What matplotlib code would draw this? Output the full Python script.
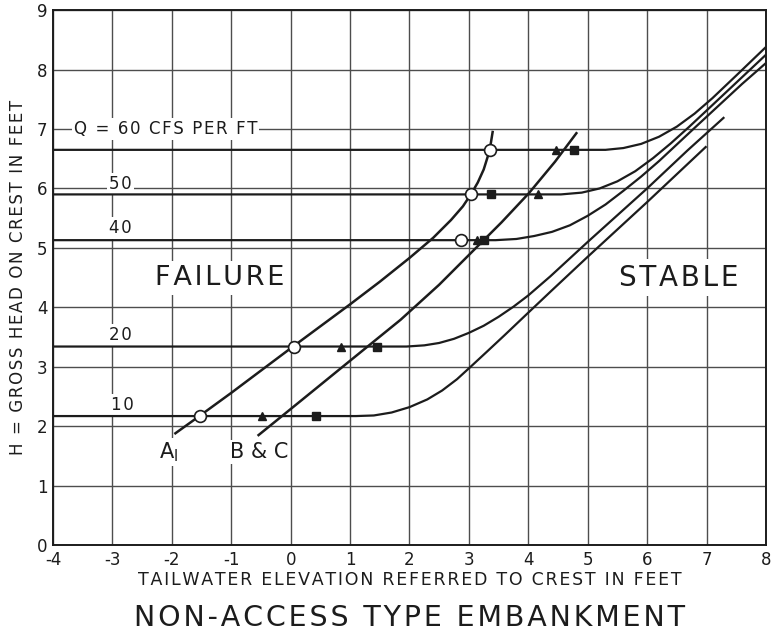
import matplotlib
matplotlib.use("Agg")
import matplotlib.pyplot as plt

plt.rcParams['font.family'] = ['DejaVu Sans']

# ---- data -------------------------------------------------------------
X_TICKS = [-4, -3, -2, -1, 0, 1, 2, 3, 4, 5, 6, 7, 8]
X_TICK_LABELS = ["-4", "-3", "-2", "-1", "0", "1", "2", "3", "4", "5", "6", "7", "8"]
Y_TICKS = [0, 1, 2, 3, 4, 5, 6, 7, 8, 9]
Y_TICK_LABELS = ["0", "1", "2", "3", "4", "5", "6", "7", "8", "9"]

# discharge curves (tailwater, head)
Q10_X = [-4, 1.1, 1.4, 1.7, 2.0, 2.3, 2.55, 2.8, 3.03, 3.3, 3.6, 4.0, 4.37, 5.0, 6.0, 7.0]
Q10_Y = [2.17, 2.17, 2.18, 2.23, 2.32, 2.45, 2.6, 2.79, 3.0, 3.25, 3.53, 3.91, 4.26, 4.85, 5.77, 6.71]

Q20_X = [-4, 1.95, 2.25, 2.5, 2.75, 3.0, 3.25, 3.5, 3.75, 4.0, 4.37, 5.0, 6.0, 6.68, 7.3]
Q20_Y = [3.34, 3.34, 3.36, 3.4, 3.47, 3.57, 3.69, 3.84, 4.01, 4.2, 4.52, 5.1, 6.0, 6.64, 7.2]

Q40_X = [-4, 3.45, 3.8, 4.1, 4.4, 4.7, 5.0, 5.3, 5.6, 5.9, 6.2, 6.5, 6.8, 7.2, 7.6, 8.0]
Q40_Y = [5.13, 5.13, 5.15, 5.2, 5.27, 5.38, 5.54, 5.73, 5.96, 6.2, 6.46, 6.74, 7.02, 7.39, 7.76, 8.11]

Q50_X = [-4, 4.55, 4.9, 5.2, 5.5, 5.8, 6.1, 6.4, 6.7, 7.0, 7.5, 8.0]
Q50_Y = [5.90, 5.90, 5.93, 6.0, 6.12, 6.29, 6.51, 6.76, 7.03, 7.31, 7.78, 8.25]

Q60_X = [-4, 5.3, 5.6, 5.9, 6.2, 6.5, 6.8, 7.1, 7.5, 8.0]
Q60_Y = [6.65, 6.65, 6.68, 6.75, 6.87, 7.04, 7.26, 7.52, 7.9, 8.38]

# failure limit curves
A1_X = [-1.94, -1.55, -1.0, 0.04, 1.0, 1.5, 2.0, 2.4, 2.7, 2.9, 3.04, 3.15, 3.25, 3.35, 3.4]
A1_Y = [1.88, 2.16, 2.56, 3.34, 4.05, 4.43, 4.83, 5.17, 5.47, 5.7, 5.91, 6.1, 6.32, 6.64, 6.95]

BC_X = [-0.54, 0.2, 0.95, 1.85, 2.5, 3.03, 3.55, 4.01, 4.45, 4.81]
BC_Y = [1.85, 2.45, 3.06, 3.79, 4.38, 4.91, 5.43, 5.92, 6.45, 6.93]

# test points
CIRCLE_X = [-1.52, 0.05, 2.86, 3.04, 3.35]
CIRCLE_Y = [2.17, 3.34, 5.13, 5.90, 6.65]
TRIANGLE_X = [-0.48, 0.84, 3.14, 4.16, 4.47]
TRIANGLE_Y = [2.17, 3.34, 5.13, 5.90, 6.65]
SQUARE_X = [0.43, 1.45, 3.26, 3.37, 4.77]
SQUARE_Y = [2.17, 3.34, 5.13, 5.90, 6.65]

Q_LABELS = ["Q = 60 CFS PER FT", "50", "40", "20", "10"]
Q_LABEL_X = [-3.65, -3.05, -3.05, -3.05, -3.02]
Q_LABEL_Y = [7.0, 6.08, 5.34, 3.54, 2.36]


def spaced(s, gap="\u200a"):
    """Open up letter spacing in the manner of stencil lettering."""
    return gap.join(s)


# ---- figure -----------------------------------------------------------
fig = plt.figure(figsize=(7.76, 6.37), dpi=100)
ax = fig.add_axes([0.0683, 0.1444, 0.9187, 0.8396])
ax.set_xlim(-4, 8)
ax.set_ylim(0, 9)

ink = "#1c1c1c"
grid_c = "#4d4d4d"

for xv in X_TICKS:
    ax.axvline(xv, color=grid_c, lw=1.0, zorder=1)
for yv in Y_TICKS:
    ax.axhline(yv, color=grid_c, lw=1.0, zorder=1)

for s in ax.spines.values():
    s.set_color(ink)
    s.set_linewidth(1.4)
    s.set_zorder(5)

ax.set_xticks(X_TICKS)
ax.set_xticklabels(X_TICK_LABELS)
ax.set_yticks(Y_TICKS)
ax.set_yticklabels(Y_TICK_LABELS)
ax.tick_params(length=0, labelsize=12, colors=ink, pad=4)

for xs, ys in [(Q10_X, Q10_Y), (Q20_X, Q20_Y), (Q40_X, Q40_Y),
               (Q50_X, Q50_Y), (Q60_X, Q60_Y)]:
    ax.plot(xs, ys, color=ink, lw=1.6, solid_capstyle="butt",
            solid_joinstyle="round", zorder=3)

ax.plot(A1_X, A1_Y, color=ink, lw=1.8, solid_joinstyle="round", zorder=3)
ax.plot(BC_X, BC_Y, color=ink, lw=1.8, solid_joinstyle="round", zorder=3)

ax.plot(TRIANGLE_X, TRIANGLE_Y, "^", color=ink, ms=6, zorder=4)
ax.plot(SQUARE_X, SQUARE_Y, "s", color=ink, ms=6, zorder=4)
ax.plot(CIRCLE_X, CIRCLE_Y, "o", mfc="white", mec=ink, mew=1.2, ms=8.5, zorder=4)

box = dict(facecolor="white", edgecolor="none", pad=1.5)
for txt, tx, ty in zip(Q_LABELS, Q_LABEL_X, Q_LABEL_Y):
    ax.text(tx, ty, spaced(txt), fontsize=12, color=ink, ha="left", va="center",
            bbox=box, zorder=2)

ax.text(-1.2, 4.5, spaced("FAILURE"), fontsize=19.5, color=ink, ha="center",
        va="center", bbox=dict(facecolor="white", edgecolor="none", pad=3), zorder=2)
ax.text(6.53, 4.5, spaced("STABLE"), fontsize=20, color=ink, ha="center",
        va="center", bbox=dict(facecolor="white", edgecolor="none", pad=3), zorder=2)

ax.text(-2.05, 1.57, "A$_\\mathregular{I}$", fontsize=15, color=ink, ha="center",
        va="center", bbox=box, zorder=2)
ax.text(-0.53, 1.57, "B & C", fontsize=15, color=ink, ha="center", va="center",
        bbox=box, zorder=2)

ax.set_xlabel(spaced("TAILWATER ELEVATION REFERRED TO CREST IN FEET"),
              fontsize=12.5, color=ink, labelpad=2)
ax.set_ylabel(spaced("H = GROSS HEAD ON CREST IN FEET"), fontsize=12,
              color=ink, labelpad=7)

fig.text(0.528, 1 - 618 / 637, spaced("NON-ACCESS TYPE EMBANKMENT"),
         fontsize=20.5, color=ink, ha="center", va="center")

fig.savefig("out.png", dpi=100, facecolor="white")
